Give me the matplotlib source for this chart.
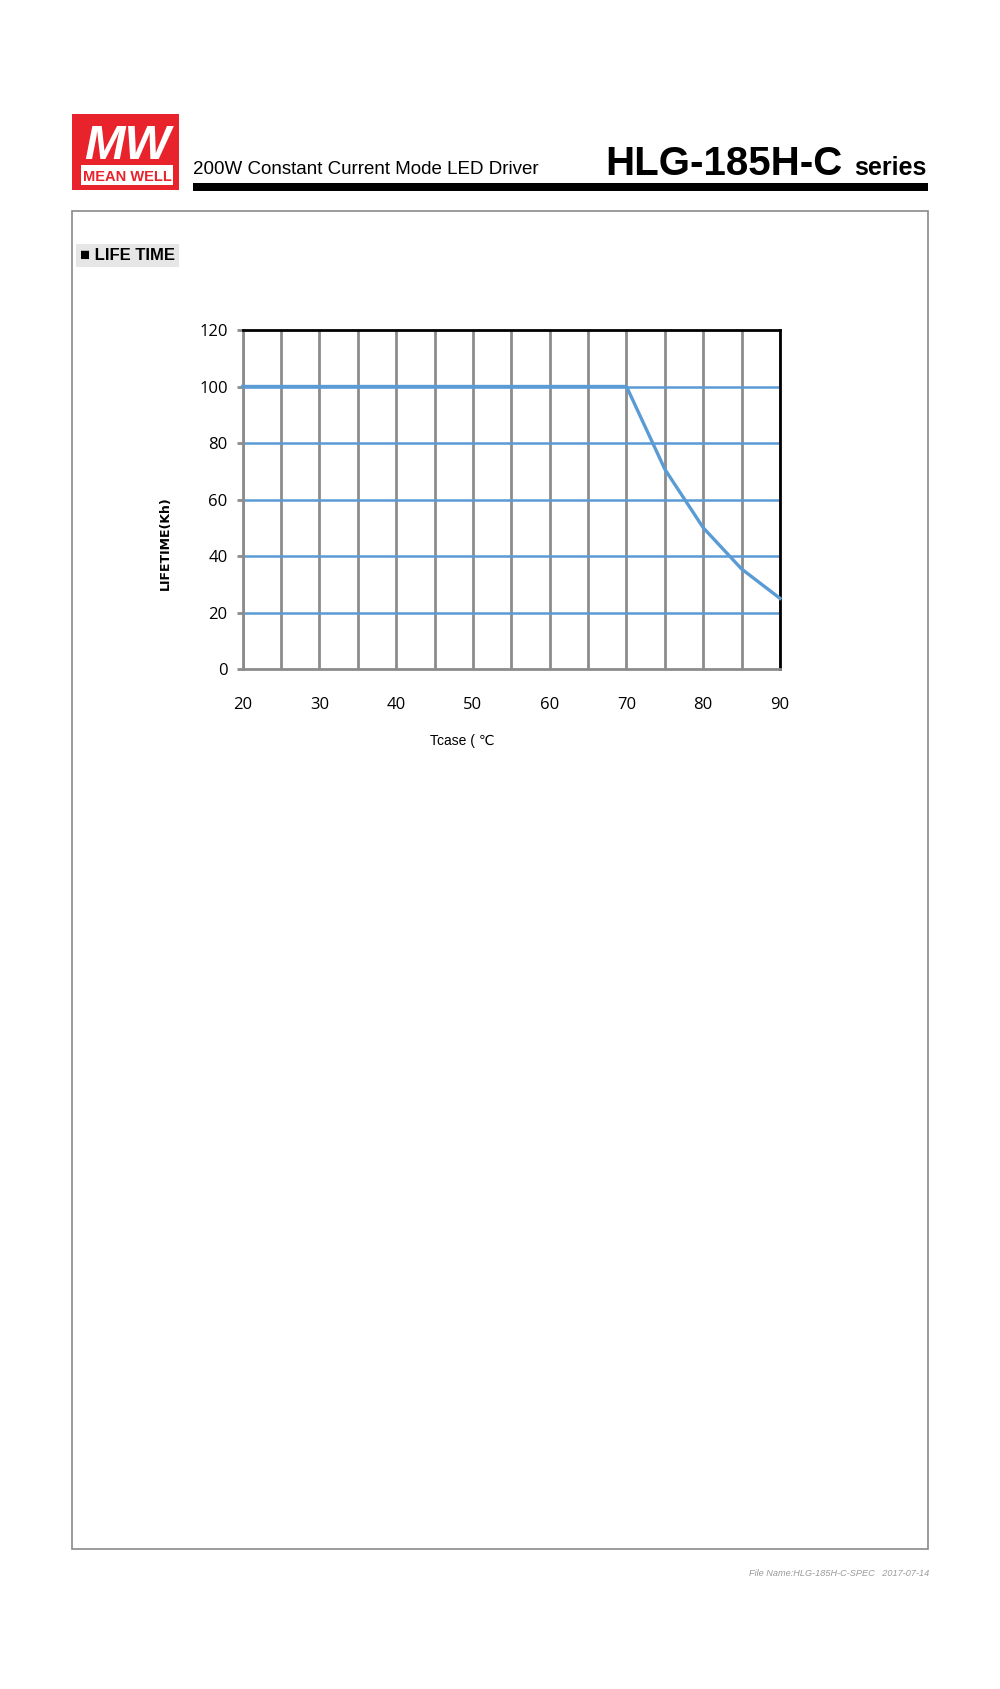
import matplotlib
matplotlib.use('Agg')
import matplotlib.pyplot as plt
from matplotlib.patches import Rectangle

# data
tcase = [20, 70, 75, 80, 85, 90]
lifetime = [100, 100, 70.7, 50, 35.4, 25]

x_ticks = [20, 30, 40, 50, 60, 70, 80, 90]
x_grid = [20, 25, 30, 35, 40, 45, 50, 55, 60, 65, 70, 75, 80, 85, 90]
y_ticks = [0, 20, 40, 60, 80, 100, 120]
y_grid = [20, 40, 60, 80, 100]

W, H = 1000, 1689
narrow = ['Liberation Sans', 'DejaVu Sans']
blue = '#5b9bd5'
gray = '#8c8c8c'


def px(x, y):
    # pixel coords (from top-left) -> figure fraction
    return x / W, 1 - y / H


fig = plt.figure(figsize=(W / 100, H / 100), dpi=100)

# header: logo
x0, y0 = px(71.7, 190)
fig.add_artist(Rectangle((x0, y0), 107.3 / W, 76 / H, transform=fig.transFigure,
                         facecolor='#e8232b', edgecolor='none'))
x0, y0 = px(80.7, 185)
fig.add_artist(Rectangle((x0, y0), 92.3 / W, 20 / H, transform=fig.transFigure,
                         facecolor='white', edgecolor='none'))
fig.text(*px(127, 159), 'MW', color='white', fontsize=35, fontstyle='italic', fontweight='bold',
         family=narrow, ha='center', va='baseline')
fig.text(*px(127, 181), 'MEAN WELL', color='#e8232b', fontsize=10.5, fontweight='bold',
         family=narrow, ha='center', va='baseline')

fig.text(*px(193, 174), '200W Constant Current Mode LED Driver', fontsize=13.5,
         family=narrow, ha='left', va='baseline')
fig.text(*px(605, 175), 'HLG-185H-C', fontsize=29, fontweight='bold',
         family=narrow, ha='left', va='baseline')
fig.text(*px(927, 175), 'series', fontsize=18, fontweight='bold',
         family=narrow, ha='right', va='baseline')
x0, y0 = px(193, 190.7)
fig.add_artist(Rectangle((x0, y0), 735 / W, 7.7 / H, transform=fig.transFigure,
                         facecolor='black', edgecolor='none'))

# page frame
x0, y0 = px(71.7, 1548.6)
fig.add_artist(Rectangle((x0, y0), (928 - 71.7) / W, (1548.6 - 211) / H, transform=fig.transFigure,
                         facecolor='none', edgecolor='#8a8a8a', linewidth=1.2))

# section label
fig.text(*px(80, 260), '■ LIFE TIME', fontsize=12, fontweight='bold', family=narrow,
         ha='left', va='baseline',
         bbox=dict(boxstyle='square,pad=0.25', facecolor='#e6e6e6', edgecolor='none'))

# chart
l, b = px(242.7, 669)
ax = fig.add_axes([l, b, (780 - 242.7) / W, (669 - 330) / H])
ax.vlines(x_grid, 0, 120, color=gray, linewidth=2, zorder=1)
ax.hlines(y_grid, 20, 90, color=blue, linewidth=1.8, zorder=2)
ax.plot(tcase, lifetime, color=blue, linewidth=2.4, zorder=3, clip_on=False)

ax.set_xlim(20, 90)
ax.set_ylim(0, 120)
ax.set_xticks(x_ticks)
ax.set_yticks(y_ticks)
for side in ['top', 'right']:
    ax.spines[side].set_color('black')
    ax.spines[side].set_linewidth(2)
for side in ['bottom', 'left']:
    ax.spines[side].set_color(gray)
    ax.spines[side].set_linewidth(2)
ax.tick_params(axis='x', length=0, pad=20, labelsize=12)
ax.tick_params(axis='y', length=4.3, width=2, color=gray, pad=6.5, labelsize=12)
for lab in ax.get_xticklabels() + ax.get_yticklabels():
    lab.set_family(['Open Sans', 'DejaVu Sans'])

fig.text(*px(165, 543), 'LIFETIME(Kh)', rotation=90, fontsize=9, fontweight='bold',
         family='DejaVu Sans', ha='center', va='center')
fig.text(*px(430, 745), 'Tcase ( ℃', fontsize=10, family=narrow, ha='left', va='baseline')

# footer
fig.text(*px(929, 1576), 'File Name:HLG-185H-C-SPEC   2017-07-14', fontsize=6.6, fontstyle='italic',
         color='#9a9a9a', family=narrow, ha='right', va='baseline')

plt.savefig('out.png', dpi=100)
